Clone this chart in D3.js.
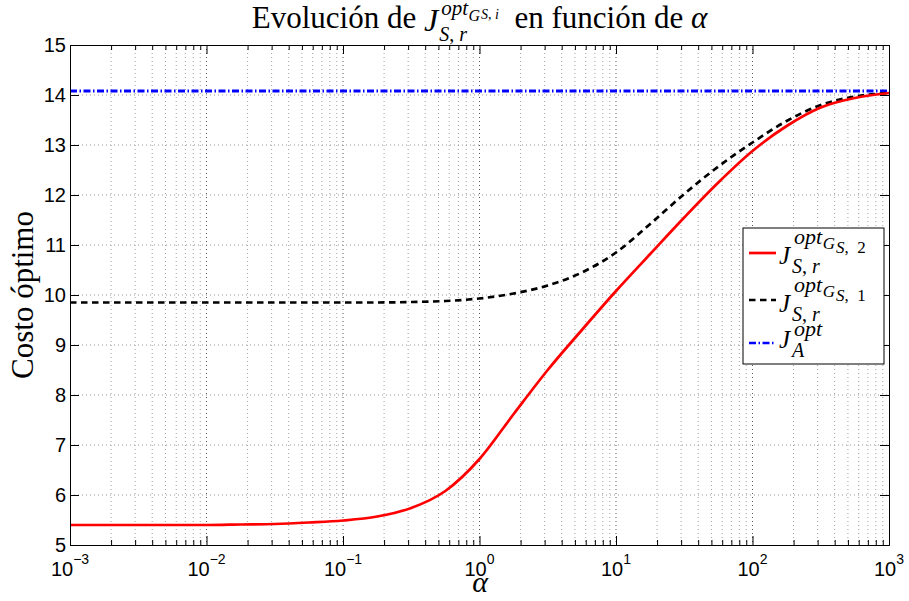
<!DOCTYPE html>
<html>
<head>
<meta charset="utf-8">
<script src="https://cdn.jsdelivr.net/npm/d3@7/dist/d3.min.js"></script>
<style>
  body { margin: 0; background: #fff; }
  text { white-space: pre; }
</style>
</head>
<body>
<script>
// values (alpha every quarter decade)
const alpha = [0.001, 0.00178, 0.00316, 0.00562, 0.01, 0.0178, 0.0316, 0.0562, 0.1,
  0.178, 0.316, 0.562, 1, 1.78, 3.16, 5.62, 10, 17.8, 31.6, 56.2, 100, 178, 316, 562, 1000]
const costG2 = [5.40, 5.40, 5.40, 5.40, 5.40, 5.41, 5.42, 5.45, 5.49,
  5.57, 5.74, 6.08, 6.72, 7.62, 8.50, 9.30, 10.08, 10.82, 11.55, 12.25, 12.88, 13.38, 13.75, 13.94, 14.04]
const costG1 = [9.85, 9.85, 9.85, 9.85, 9.85, 9.85, 9.85, 9.85, 9.85,
  9.85, 9.86, 9.88, 9.93, 10.03, 10.19, 10.45, 10.85, 11.42, 12.02, 12.57, 13.05, 13.48, 13.80, 13.97, 14.04]
const alphaA = [0.001, 1000]
const costA = [14.08, 14.08]

const xDecades = [1e-3, 1e-2, 1e-1, 1, 10, 100, 1000]
const xExponents = ["\u22123", "\u22122", "\u22121", "0", "1", "2", "3"]
const yTicks = [5, 6, 7, 8, 9, 10, 11, 12, 13, 14, 15]

const width = 909, height = 601
const plot = {left: 70, right: 889, top: 45, bottom: 545}

const x = d3.scaleLog().domain([1e-3, 1e3]).range([plot.left, plot.right])
const y = d3.scaleLinear().domain([5, 15]).range([plot.bottom, plot.top])

// minor positions 2..9 within each decade
const xMinor = []
xDecades.slice(0, -1).forEach(d => d3.range(2, 10).forEach(m => xMinor.push(m * d)))

const svg = d3.select("body").append("svg")
  .attr("width", width)
  .attr("height", height)

svg.append("rect").attr("width", width).attr("height", height).attr("fill", "#fff")

// grid
const grid = svg.append("g")
grid.selectAll("line.vmin").data(xMinor).enter().append("line")
  .attr("x1", d => x(d)).attr("x2", d => x(d))
  .attr("y1", plot.top).attr("y2", plot.bottom)
  .attr("stroke", "#a0a0a0").attr("stroke-dasharray", "1,3")
grid.selectAll("line.vmaj").data(xDecades.slice(1, -1)).enter().append("line")
  .attr("x1", d => x(d)).attr("x2", d => x(d))
  .attr("y1", plot.top).attr("y2", plot.bottom)
  .attr("stroke", "#555").attr("stroke-dasharray", "1,3")
grid.selectAll("line.h").data(yTicks.slice(1, -1)).enter().append("line")
  .attr("x1", plot.left).attr("x2", plot.right)
  .attr("y1", d => y(d)).attr("y2", d => y(d))
  .attr("stroke", "#999").attr("stroke-dasharray", "1,3")

// curves
const line = d3.line()
  .x(d => x(d[0]))
  .y(d => y(d[1]))
  .curve(d3.curveMonotoneX)

svg.append("path")
  .datum(d3.zip(alphaA, costA))
  .attr("d", line)
  .attr("fill", "none").attr("stroke", "#0000ff").attr("stroke-width", 2.8)
  .attr("stroke-dasharray", "7,2.5,1.5,2.5")

svg.append("path")
  .datum(d3.zip(alpha, costG1))
  .attr("d", line)
  .attr("fill", "none").attr("stroke", "#000").attr("stroke-width", 2.7)
  .attr("stroke-dasharray", "6.5,4.5")

svg.append("path")
  .datum(d3.zip(alpha, costG2))
  .attr("d", line)
  .attr("fill", "none").attr("stroke", "#ff0000").attr("stroke-width", 2.7)

// axes box with inward ticks
function tickAxis(axis, tr, vals, size) {
  svg.append("g")
    .attr("transform", tr)
    .call(axis.tickValues(vals).tickSize(size).tickSizeOuter(0).tickFormat(""))
    .call(g => g.select(".domain").attr("stroke", "#000"))
}
tickAxis(d3.axisBottom(x), `translate(0,${plot.bottom})`, xDecades, -9)
tickAxis(d3.axisBottom(x), `translate(0,${plot.bottom})`, xMinor, -5)
tickAxis(d3.axisTop(x), `translate(0,${plot.top})`, xDecades, -9)
tickAxis(d3.axisTop(x), `translate(0,${plot.top})`, xMinor, -5)
tickAxis(d3.axisLeft(y), `translate(${plot.left},0)`, yTicks, -9)
tickAxis(d3.axisRight(y), `translate(${plot.right},0)`, yTicks, -9)

// tick labels
const sans = "'Liberation Sans', Arial, Helvetica, sans-serif"
const serif = "'Liberation Serif', 'Times New Roman', serif"

svg.append("g").selectAll("text").data(yTicks).enter().append("text")
  .attr("x", plot.left - 4)
  .attr("y", d => y(d) + 7)
  .attr("text-anchor", "end")
  .attr("font-family", sans).attr("font-size", 20)
  .text(d => d)

const xl = svg.append("g").selectAll("text").data(xDecades).enter().append("text")
  .attr("x", d => x(d))
  .attr("y", 576)
  .attr("text-anchor", "middle")
  .attr("font-family", sans).attr("font-size", 20)
xl.append("tspan").text("10")
xl.append("tspan").attr("dy", -12).attr("font-size", 14).text((d, i) => xExponents[i])

// math-ish text: pieces laid left to right, sizes and rises in px
function drawMath(g, x0, base, pieces) {
  let cx = x0, mark = x0, maxX = x0
  pieces.forEach(p => {
    if (p.back) cx = mark
    if (p.after) cx = maxX
    cx += p.dx || 0
    const t = g.append("text")
      .attr("x", cx).attr("y", base - (p.rise || 0))
      .attr("font-family", serif)
      .attr("font-size", p.size)
    const segs = Array.isArray(p.text) ? p.text : [[p.text, p.italic]]
    segs.forEach(sg => t.append("tspan").attr("font-style", sg[1] ? "italic" : "normal").text(sg[0]))
    cx += t.node().getComputedTextLength()
    maxX = Math.max(maxX, cx)
    if (p.mark) mark = cx
  })
  return maxX - x0
}

const sr = [["S", true], [", ", false], ["r", true]]

// title
const title = svg.append("g")
const tw = drawMath(title, 0, 28, [
  {text: "Evolución de ", size: 31},
  {text: "J", italic: true, size: 32, rise: -3, mark: true},
  {text: "opt", italic: true, size: 21, rise: 13, dx: 3},
  {text: "G", italic: true, size: 16, rise: 7, dx: 0.5},
  {text: [["S", true], [", ", false], ["i", true]], size: 14, rise: 9, dx: 1},
  {text: sr, size: 20, rise: -13, back: true, dx: 1},
  {text: "  en función de ", size: 31, after: true},
  {text: "α", italic: true, size: 31}
])
title.attr("transform", `translate(${(plot.left + plot.right) / 2 - tw / 2},0)`)

// axis labels
svg.append("text")
  .attr("x", 480).attr("y", 592)
  .attr("text-anchor", "middle")
  .attr("font-family", serif).attr("font-style", "italic").attr("font-size", 30)
  .text("α")

svg.append("text")
  .attr("transform", `translate(33,${(plot.top + plot.bottom) / 2}) rotate(-90)`)
  .attr("text-anchor", "middle")
  .attr("font-family", serif).attr("font-size", 31)
  .text("Costo óptimo")

// legend
const legend = svg.append("g")
legend.append("rect")
  .attr("x", 743).attr("y", 228).attr("width", 141).attr("height", 136)
  .attr("fill", "#fff").attr("stroke", "#000")

const legendItems = [
  {color: "#ff0000", dash: null, y: 253, base: 263, k: "2"},
  {color: "#000", dash: "6.5,4.5", y: 300, base: 311, k: "1"},
  {color: "#0000ff", dash: "7,2.5,1.5,2.5", y: 343, base: 347, k: null}
]
legendItems.forEach(it => {
  legend.append("line")
    .attr("x1", 749).attr("x2", 776).attr("y1", it.y).attr("y2", it.y)
    .attr("stroke", it.color).attr("stroke-width", 2.7)
    .attr("stroke-dasharray", it.dash)
  const g = legend.append("g")
  const s = 25
  if (it.k) {
    drawMath(g, 779, it.base, [
      {text: "J", italic: true, size: s, rise: -1, mark: true},
      {text: "opt", italic: true, size: 22, rise: 19, dx: 4},
      {text: "G", italic: true, size: 17, rise: 14, dx: 0.5},
      {text: [["S", true], [",  ", false], [it.k, false]], size: 17, rise: 10, dx: 1},
      {text: sr, size: 20, rise: -10, back: true, dx: 2}
    ])
  } else {
    drawMath(g, 779, it.base, [
      {text: "J", italic: true, size: s, rise: -1, mark: true},
      {text: "opt", italic: true, size: 22, rise: 11, dx: 4},
      {text: "A", italic: true, size: 20, rise: -10, back: true, dx: 2}
    ])
  }
})
</script>
</body>
</html>
